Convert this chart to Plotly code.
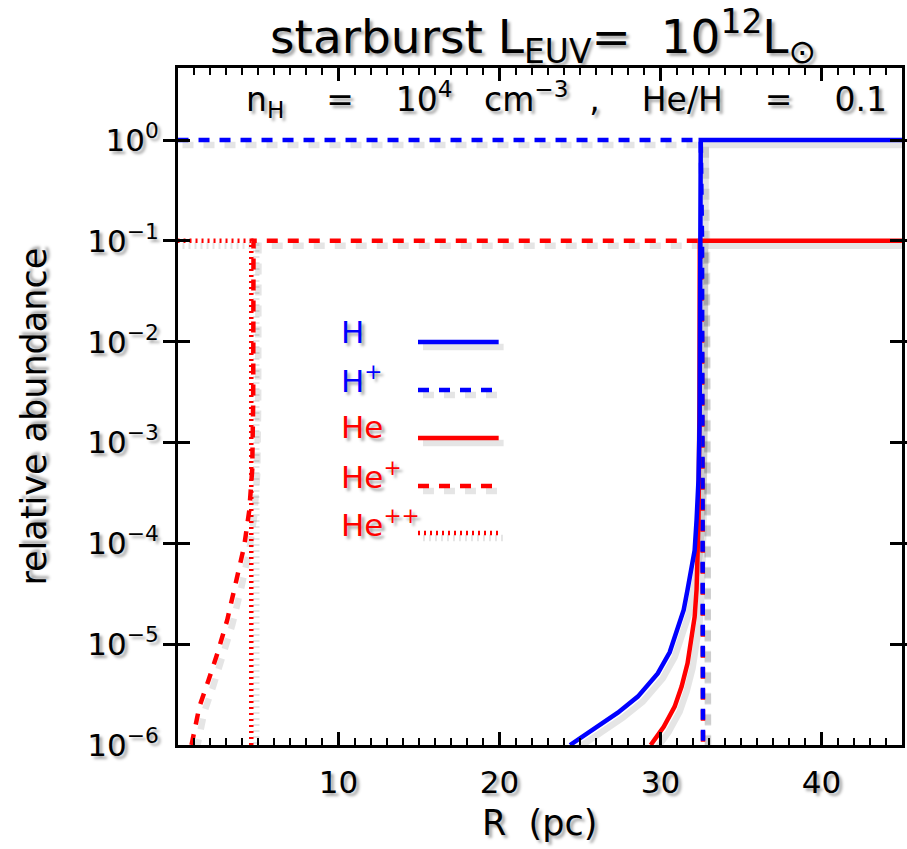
import numpy as np
import plotly.graph_objects as go

# ---------------- data ----------------
# radius in pc, abundance as log10 exponent
R_H = [24.38, 26.11, 27.35, 28.59, 29.83, 30.57, 31.06, 31.44, 31.68, 31.93, 32.12, 32.24, 32.36, 32.43, 32.49, 32.5, 45.0]
LOG_H = [-6.0, -5.82, -5.68, -5.52, -5.29, -5.08, -4.86, -4.66, -4.46, -4.26, -4.07, -3.77, -3.37, -2.78, -1.59, 0.0, 0.0]

R_HP = [0.0, 32.5, 32.58, 32.62, 32.64]
LOG_HP = [0.0, 0.0, -1.0, -3.0, -6.0]

R_HE = [29.39, 30.2, 30.88, 31.31, 31.68, 31.93, 32.12, 32.24, 32.3, 32.36, 32.42, 32.44, 45.0]
LOG_HE = [-6.0, -5.82, -5.62, -5.42, -5.19, -4.96, -4.73, -4.46, -4.23, -3.77, -2.58, -1.0, -1.0]

R_HEP = [0.87, 1.11, 1.36, 1.92, 2.48, 3.09, 3.65, 4.15, 4.46, 4.64, 4.70, 4.72, 32.5, 32.58, 32.62, 32.64]
LOG_HEP = [-6.0, -5.82, -5.62, -5.36, -5.09, -4.76, -4.39, -4.02, -3.67, -3.27, -2.58, -1.0, -1.0, -2.0, -4.0, -6.0]

R_HEPP = [0.0, 4.58, 4.58]
LOG_HEPP = [-1.0, -1.0, -6.0]

Y_TICKS = [1e-6, 1e-5, 1e-4, 1e-3, 1e-2, 1e-1, 1e0]
Y_TICKTEXT = ["10<sup>−6</sup>", "10<sup>−5</sup>", "10<sup>−4</sup>", "10<sup>−3</sup>",
              "10<sup>−2</sup>", "10<sup>−1</sup>", "10<sup>0</sup>"]
X_TICK_STEP = 10
X_MINOR_STEP = 1

LEGEND_LABELS = ["H", "H<sup>+</sup>", "He", "He<sup>+</sup>", "He<sup>++</sup>"]

# ---------------- style ----------------
FONT = "DejaVu Sans"
BLUE = "#0000ff"
RED = "#ff0000"
SHADOW = "3px 3px 3px rgba(0,0,0,0.35)"
SHADOW_LINE = "rgba(0,0,0,0.10)"
LW = 4.5
DASH = "11px,10px"
DOT = "2px,4px"
X_RANGE = [0.03, 45]   # starts a hair above 0 so that no "0" label is drawn
Y_RANGE = [-6, 0.714]
PLOT_L, PLOT_R, PLOT_T, PLOT_B = 178, 905, 68, 745
SH_PX = 5  # shadow offset in pixels

series = [
    (R_HEPP, LOG_HEPP, RED, DOT),
    (R_HEP, LOG_HEP, RED, DASH),
    (R_HP, LOG_HP, BLUE, DASH),
    (R_HE, LOG_HE, RED, "solid"),
    (R_H, LOG_H, BLUE, "solid"),
]

px_per_x = (PLOT_R - PLOT_L) / (X_RANGE[1] - X_RANGE[0])
px_per_dec = (PLOT_B - PLOT_T) / (Y_RANGE[1] - Y_RANGE[0])

fig = go.Figure()
# soft drop shadows of the curves
for r, lg, col, dash in series:
    fig.add_trace(go.Scatter(
        x=np.array(r) + SH_PX / px_per_x,
        y=np.power(10.0, np.array(lg) - SH_PX / px_per_dec), mode="lines",
        line=dict(color=SHADOW_LINE, width=LW + 2, dash=dash),
        showlegend=False, hoverinfo="skip"))
for r, lg, col, dash in series:
    fig.add_trace(go.Scatter(
        x=r, y=np.power(10.0, lg), mode="lines",
        line=dict(color=col, width=LW, dash=dash),
        showlegend=False, hoverinfo="skip"))
# invisible trace that anchors the top (mirrored) x axis
fig.add_trace(go.Scatter(x=X_RANGE, y=[None, None], xaxis="x2", yaxis="y",
                         mode="lines", showlegend=False, hoverinfo="skip"))

fig.update_layout(
    width=907, height=849,
    margin=dict(l=PLOT_L, r=907 - PLOT_R, t=PLOT_T, b=849 - PLOT_B),
    paper_bgcolor="white", plot_bgcolor="white",
    font=dict(family=FONT, size=31, color="black", shadow=SHADOW),
    showlegend=False,
)

xcommon = dict(
    range=X_RANGE, tickmode="linear", tick0=0, dtick=X_TICK_STEP,
    ticks="inside", ticklen=13, tickwidth=3, tickcolor="black",
    showline=True, linewidth=3, linecolor="black",
    showgrid=False, zeroline=False, layer="above traces",
    minor=dict(tickmode="linear", tick0=0, dtick=X_MINOR_STEP, ticks="inside",
               ticklen=7, tickwidth=2, tickcolor="black", showgrid=False),
)
fig.update_layout(
    xaxis=dict(**xcommon, mirror=True,
               tickfont=dict(family=FONT, size=31, color="black", shadow=SHADOW),
               ticklabelstandoff=8),
    xaxis2=dict(**xcommon, overlaying="x", side="top", matches="x", showticklabels=False),
)
fig.update_yaxes(
    type="log", range=Y_RANGE, tickmode="array", tickvals=Y_TICKS, ticktext=Y_TICKTEXT,
    ticks="inside", ticklen=12, tickwidth=3, tickcolor="black",
    mirror="allticks", showline=True, linewidth=3, linecolor="black",
    showgrid=False, zeroline=False, layer="above traces",
    tickfont=dict(family=FONT, size=31, color="black", shadow=SHADOW),
    ticklabelstandoff=10,
)

def px2paper(px, py):
    return (px - PLOT_L) / float(PLOT_R - PLOT_L), (PLOT_B - py) / float(PLOT_B - PLOT_T)

NB = "\u00a0"
ann = []
tx, ty = px2paper(545, 36)
ann.append(dict(text="starburst" + NB + "L<sub>EUV</sub>=" + NB * 2 + "10<sup>12</sup>L<sub>\u2299</sub>",
                x=tx, y=ty, xref="paper", yref="paper", showarrow=False,
                xanchor="center", yanchor="middle",
                font=dict(family=FONT, size=47, color="black", shadow=SHADOW)))
tx, ty = px2paper(568, 100)
ann.append(dict(text="n<sub>H</sub>" + NB * 4 + "=" + NB * 4 + "10<sup>4</sup>" + NB * 3 + "cm<sup>−3</sup>"
                + NB * 2 + "," + NB * 4 + "He/H" + NB * 4 + "=" + NB * 4 + "0.1",
                x=tx, y=ty, xref="paper", yref="paper", showarrow=False,
                xanchor="center", yanchor="middle",
                font=dict(family=FONT, size=33, color="black", shadow=SHADOW)))
tx, ty = px2paper(33, 417)
ann.append(dict(text="relative abundance", textangle=-90,
                x=tx, y=ty, xref="paper", yref="paper", showarrow=False,
                xanchor="center", yanchor="middle",
                font=dict(family=FONT, size=35, color="black", shadow=SHADOW)))
tx, ty = px2paper(541, 823)
ann.append(dict(text="R" + NB * 2 + "(pc)",
                x=tx, y=ty, xref="paper", yref="paper", showarrow=False,
                xanchor="center", yanchor="middle",
                font=dict(family=FONT, size=35, color="black", shadow=SHADOW)))

# legend (custom: label on the left, sample line on the right)
leg_text_y = [332, 379, 427, 475, 523]
leg_line_y = [342, 390, 438, 486, 533]
leg_colors = [BLUE, BLUE, RED, RED, RED]
leg_dash = ["solid", DASH, "solid", DASH, DOT]
shapes = []
for lab, tyy, lyy, col, dsh in zip(LEGEND_LABELS, leg_text_y, leg_line_y, leg_colors, leg_dash):
    tx, ty = px2paper(340, tyy)
    ann.append(dict(text=lab, x=tx, y=ty, xref="paper", yref="paper", showarrow=False,
                    xanchor="left", yanchor="middle",
                    font=dict(family=FONT, size=31, color=col, shadow=SHADOW)))
    x0, y0 = px2paper(419, lyy)
    x1, _ = px2paper(500, lyy)
    sx0, sy0 = px2paper(419 + SH_PX, lyy + SH_PX)
    sx1, _ = px2paper(500 + SH_PX, lyy + SH_PX)
    shapes.append(dict(type="line", xref="paper", yref="paper", x0=sx0, x1=sx1, y0=sy0, y1=sy0,
                       line=dict(color=SHADOW_LINE, width=LW + 2, dash=dsh)))
    shapes.append(dict(type="line", xref="paper", yref="paper", x0=x0, x1=x1, y0=y0, y1=y0,
                       line=dict(color=col, width=LW, dash=dsh)))

fig.update_layout(annotations=ann, shapes=shapes)
fig.write_html("out.html")
